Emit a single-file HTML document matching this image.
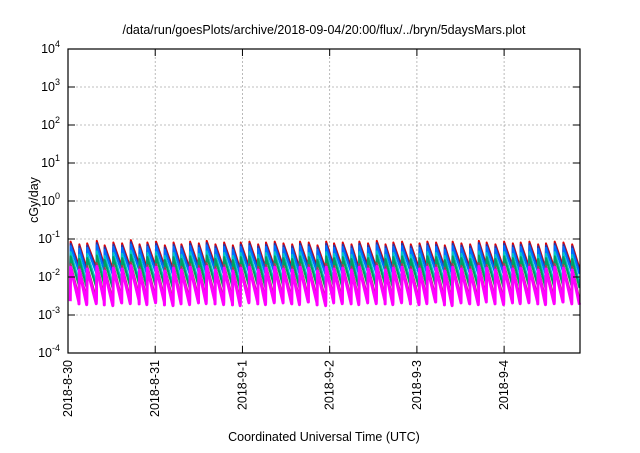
<!DOCTYPE html>
<html><head><meta charset="utf-8"><style>
body{margin:0;background:#fff;}
svg text{font-family:"Liberation Sans",sans-serif;fill:#000;}
</style></head><body>
<svg id="chart" width="640" height="448" viewBox="0 0 640 448" xmlns="http://www.w3.org/2000/svg">
<text x="324" y="34" font-size="12.5" text-anchor="middle">/data/run/goesPlots/archive/2018-09-04/20:00/flux/../bryn/5daysMars.plot</text>
<text transform="translate(38,200) rotate(-90)" font-size="12.5" text-anchor="middle">cGy/day</text>
<text x="324" y="441" font-size="12.5" text-anchor="middle">Coordinated Universal Time (UTC)</text>
<g id="grid"></g>
<g id="series"></g>
<rect x="68" y="49" width="512" height="304" fill="none" stroke="#000" stroke-width="1.2"/>
<g id="axes"></g>
</svg>
<script>
const yTickExps=[4,3,2,1,0,-1,-2,-3,-4];
const xTickLabels=["2018-8-30","2018-8-31","2018-9-1","2018-9-2","2018-9-3","2018-9-4"];
const xTickDays=[0,1,2,3,4,5];
const peakTimes=[0.03,0.13,0.22,0.33,0.42,0.52,0.62,0.72,0.82,0.91,1.01,1.11,1.21,1.3,1.4,1.5,1.59,1.69,1.79,1.89,1.98,2.08,2.18,2.27,2.37,2.47,2.57,2.66,2.76,2.86,2.96,3.05,3.15,3.25,3.34,3.44,3.54,3.64,3.73,3.83,3.93,4.03,4.12,4.22,4.32,4.41,4.51,4.61,4.71,4.8,4.9,5.0,5.1,5.19,5.29,5.39,5.48,5.58,5.68,5.78];
const peakScale=[1.0,0.85,0.9,1.05,0.8,0.95,0.9,1.1,0.85,0.95,1.0,0.8,0.95,0.85,1.0,0.9,1.05,0.85,0.95,0.8,0.95,1.0,0.85,0.95,1.0,0.9,0.85,1.0,0.95,0.8,1.0,0.9,0.95,0.85,1.0,0.9,1.05,0.85,0.95,1.0,0.85,0.9,1.0,0.95,0.8,1.0,0.9,0.85,1.05,0.95,0.85,1.0,0.9,0.95,1.0,0.85,0.9,1.0,0.95,0.85];
const seriesNames=["red","dark-blue","blue","cyan","green","brown","magenta"];
const seriesColors=["#e00000","#3030a0","#0070ff","#00c8c8","#00a060","#a04050","#ff00ff"];
const seriesPeak=[0.085,0.075,0.065,0.045,0.035,0.022,0.018];
const seriesTrough=[0.02,0.017,0.014,0.008,0.006,0.003,0.0022];

const X0=68,X1=580,Y0=49,Y1=353,dayPx=(X1-X0)/5.87;
const xS=d=>X0+d*dayPx;
const yS=v=>Y0+(4-Math.log10(v))*(Y1-Y0)/8;
const NS="http://www.w3.org/2000/svg";
const grid=document.getElementById('grid'),axes=document.getElementById('axes'),ser=document.getElementById('series');
function mk(t,a){const e=document.createElementNS(NS,t);for(const k in a)e.setAttribute(k,a[k]);return e;}
yTickExps.forEach(ex=>{
  const y=yS(Math.pow(10,ex));
  if(ex<4&&ex>-4){const g=mk('line',{x1:X0,x2:X1,y1:y,y2:y,stroke:'#aaa','stroke-width':0.8,'stroke-dasharray':'2,2'});
  
  grid.appendChild(g);}
  const t1=mk('line',{x1:X0,x2:X0+7,y1:y,y2:y,stroke:'#000'});
  
  axes.appendChild(t1);
  const t2=mk('line',{x1:X1-7,x2:X1,y1:y,y2:y,stroke:'#000'});
  
  axes.appendChild(t2);
  const tx=mk('text',{x:X0-8,y:y+4,'font-size':12.5,'text-anchor':'end'});
  
  
  tx.innerHTML='10<tspan dy="-6" font-size="9">'+ex+'</tspan>';axes.appendChild(tx);
});
xTickDays.forEach((d,i)=>{
  const x=xS(d);
  if(d>0){const g=mk('line',{x1:x,x2:x,y1:Y0,y2:Y1,stroke:'#aaa','stroke-width':0.8,'stroke-dasharray':'2,2'});
  
  grid.appendChild(g);}
  const t1=mk('line',{x1:x,x2:x,y1:Y1-7,y2:Y1,stroke:'#000'});
  
  axes.appendChild(t1);
  const t2=mk('line',{x1:x,x2:x,y1:Y0,y2:Y0+7,stroke:'#000'});
  
  axes.appendChild(t2);
  const tx=mk('text',{transform:`translate(${x+4},360) rotate(-90)`,'font-size':12.5,'text-anchor':'end'});
  
  
  tx.textContent=xTickLabels[i];axes.appendChild(tx);
});
seriesNames.forEach((n,s)=>{
  let d='';
  peakTimes.forEach((t,i)=>{
    const p=seriesPeak[s]*peakScale[i],tr=seriesTrough[s]*peakScale[i];
    const tn=i+1<peakTimes.length?peakTimes[i+1]:Math.min(t+0.097,5.87);
    const xa=Math.max(xS(t-0.004),X0);
    d+=(i?'L':'M')+xa+','+yS(tr*1.05)+'L'+xS(t)+','+yS(p)+'L'+Math.min(xS(tn-0.006),X1)+','+yS(tr);
  });
  const path=mk('path',{d:d,fill:'none',stroke:seriesColors[s],'stroke-width':s==6?3:2,'stroke-linejoin':'round'});
  
  
  ser.appendChild(path);
});
</script>
</body></html>
